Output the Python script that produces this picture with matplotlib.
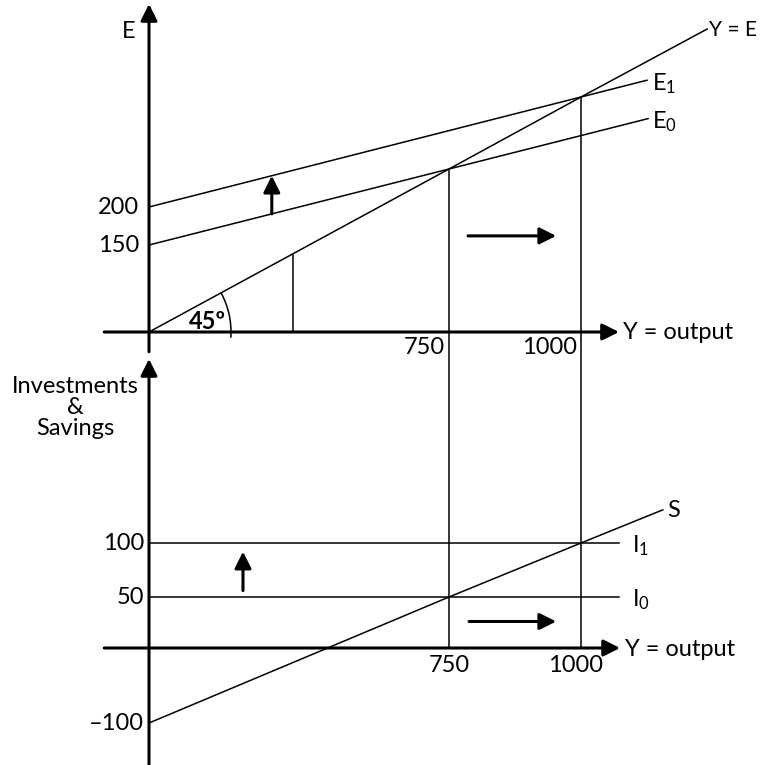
import numpy as np
import matplotlib.pyplot as plt
from matplotlib.patches import Arc, ConnectionPatch
from matplotlib.transforms import IdentityTransform

plt.rcParams['font.family'] = ['Lato', 'DejaVu Sans']
plt.rcParams['mathtext.fontset'] = 'custom'
plt.rcParams['mathtext.rm'] = 'Lato'
plt.rcParams['font.size'] = 17

# ---- data (economic units) ----
y_equilibria = [750, 1000]
e_ticks = [150, 200]
is_ticks = [100, 50, -100]
is_tick_labels = ['100', '50', '\u2013100']

# top panel: expenditure lines
ye_x = [0, 750, 1000, 1239]
ye_y = [0, 750, 1000, 1239]
e0_x = [0, 750, 1127]
e0_y = [150, 750, 925]
e1_x = [0, 1000, 1125]
e1_y = [200, 1000, 1059]

# bottom panel: savings and investment
s_x = [0, 750, 1000, 1155]
s_y = [-100, 50, 100, 131]
inv_levels = [50, 100]
inv_names = [r'$\mathrm{I_0}$', r'$\mathrm{I_1}$']
inv_end = 1072

angle_ref_x = 360

# ---- schematic (not to scale) axis mapping, in pixels from the origin ----
x_knots, x_pos = [-2000, 0, 750, 1000, 3000], [-800, 0, 300, 432, 1488]
e_knots, e_pos = [-2000, 0, 150, 200, 750, 1000, 3000], [-1160, 0, 87, 125, 163, 235, 804]
s_knots, s_pos = [-1000, -100, 0, 50, 100, 1000], [-750, -75, 0, 51, 105, 1068]


def piecewise(src, dst):
    return (lambda v: np.interp(v, src, dst), lambda v: np.interp(v, dst, src))


W, H = 761, 765
fig = plt.figure(figsize=(W / 100, H / 100), dpi=100)
ax_top = fig.add_axes([0, 0, 1, 1])
ax_bot = fig.add_axes([0, 0, 1, 1])

fx = piecewise(x_knots, x_pos)
for ax, (kn, ps), oy in [(ax_top, (e_knots, e_pos), 332), (ax_bot, (s_knots, s_pos), 648)]:
    fy = piecewise(kn, ps)
    ax.set_xscale('function', functions=fx)
    ax.set_yscale('function', functions=fy)
    ax.set_xlim(fx[1](-149), fx[1](W - 149))
    ax.set_ylim(fy[1](-(H - oy)), fy[1](oy))
    ax.set_axis_off()
    ax.patch.set_alpha(0)

arrow = dict(arrowstyle='-|>,head_length=0.5,head_width=0.25', lw=2.2, color='k',
             shrinkA=0, shrinkB=0, mutation_scale=20)


def draw_arrow(ax, start, end):
    ax.annotate('', xy=end, xytext=start, arrowprops=arrow, annotation_clip=False)


def y_on(ax, xs, ys, x):
    pts = ax.transData.transform(np.column_stack([xs, ys]))
    xd = ax.transData.transform([[x, 0]])[0, 0]
    yd = np.interp(xd, pts[:, 0], pts[:, 1])
    return ax.transData.inverted().transform([[xd, yd]])[0, 1]


def label(ax, s, xy, off, **kw):
    ax.annotate(s, xy=xy, xytext=off, textcoords='offset pixels',
                annotation_clip=False, **kw)


thin = dict(color='k', lw=1.1)

# ---- top panel ----
draw_arrow(ax_top, (-112, 0), (1072, 0))
draw_arrow(ax_top, (0, -34), (0, 1327))
ax_top.plot(ye_x, ye_y, **thin)
ax_top.plot(e0_x, e0_y, **thin)
ax_top.plot(e1_x, e1_y, **thin)
ax_top.plot([angle_ref_x, angle_ref_x], [0, y_on(ax_top, ye_x, ye_y, angle_ref_x)], **thin)

label(ax_top, 'E', (0, 1327), (-20, -28), ha='center', va='center')
label(ax_top, 'Y = output', (1072, 0), (4, -1), ha='left', va='center')
label(ax_top, 'Y = E', (ye_x[-1], ye_y[-1]), (2, -1), ha='left', va='center', fontsize=15)
label(ax_top, r'$\mathrm{E_1}$', (e1_x[-1], e1_y[-1]), (5, -3), ha='left', va='center')
label(ax_top, r'$\mathrm{E_0}$', (e0_x[-1], e0_y[-1]), (4, -3), ha='left', va='center')
for v in e_ticks:
    label(ax_top, str(v), (0, v), (-10, 0), ha='right', va='center')
for v in y_equilibria:
    label(ax_top, str(v), (v, 0), (-4, -16), ha='right', va='center')

# 45 degree marker
o = ax_top.transData.transform((0, 0))
p = ax_top.transData.transform((ye_x[1], ye_y[1]))
ang = np.degrees(np.arctan2(p[1] - o[1], p[0] - o[0]))
fig.add_artist(Arc(o, 164, 164, theta1=-4, theta2=ang, transform=IdentityTransform(), **thin))
label(ax_top, '45\u00ba', (0, 0), (58, 10), ha='center', va='center', fontweight='bold')

# shift arrows
shift_x = 307
draw_arrow(ax_top, (shift_x, y_on(ax_top, e0_x, e0_y, shift_x)),
           (shift_x, y_on(ax_top, e1_x, e1_y, shift_x)))
draw_arrow(ax_top, (786, 162), (953, 162))

# ---- bottom panel ----
draw_arrow(ax_bot, (-112, 0), (1074, 0))
draw_arrow(ax_bot, (0, -170), (0, 272))
for lvl, name in zip(inv_levels, inv_names):
    ax_bot.plot([0, inv_end], [lvl, lvl], **thin)
    label(ax_bot, name, (inv_end, lvl), (13, -3), ha='left', va='center')
ax_bot.plot(s_x, s_y, **thin)
label(ax_bot, 'S', (s_x[-1], s_y[-1]), (4, -1), ha='left', va='center')
label(ax_bot, 'Y = output', (1074, 0), (5, -1), ha='left', va='center')
label(ax_bot, 'Investments\n&\nSavings', (0, 272), (-74, -49), ha='center', va='center',
      linespacing=1.0)
for v, t in zip(is_ticks, is_tick_labels):
    label(ax_bot, t, (0, v), (-5, 0), ha='right', va='center')
for v, dx in zip(y_equilibria, [0, -5]):
    label(ax_bot, str(v), (v, 0), (dx, -17), ha='center', va='center')

draw_arrow(ax_bot, (235, 56), (235, 92))
draw_arrow(ax_bot, (788, 26), (953, 26))

# equilibrium drop lines across both panels
for v in y_equilibria:
    fig.add_artist(ConnectionPatch(xyA=(v, v), coordsA=ax_top.transData,
                                   xyB=(v, 0), coordsB=ax_bot.transData, **thin))

fig.savefig('out.png', dpi=100)
